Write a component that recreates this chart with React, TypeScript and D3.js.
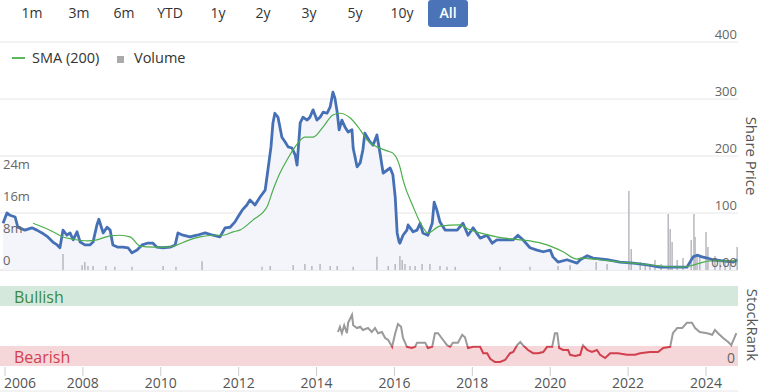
import React from "react";
import * as d3 from "d3";

// ---------- DATA ----------
const rangeButtons = ["1m", "3m", "6m", "YTD", "1y", "2y", "3y", "5y", "10y", "All"];
const yearTicks = [2006, 2008, 2010, 2012, 2014, 2016, 2018, 2020, 2022, 2024];
const priceTicks = [0, 100, 200, 300, 400];
const volumeTicks = [0, 8, 16, 24];

// share price: [decimal year, price]
const priceSeries: [number, number][] = [
  [2005.95, 82], [2006.05, 100], [2006.13, 96], [2006.26, 93], [2006.33, 75], [2006.51, 70],
  [2006.69, 74], [2006.82, 70], [2006.95, 65], [2007.1, 58], [2007.23, 49], [2007.34, 44],
  [2007.41, 39], [2007.49, 70], [2007.59, 61], [2007.67, 65], [2007.75, 53], [2007.85, 67],
  [2007.93, 49], [2008.05, 44], [2008.18, 44], [2008.26, 49], [2008.36, 79], [2008.41, 89],
  [2008.52, 65], [2008.62, 75], [2008.7, 70], [2008.77, 44], [2008.9, 40], [2009.03, 40],
  [2009.16, 39], [2009.26, 30], [2009.39, 35], [2009.52, 44], [2009.65, 47], [2009.8, 47],
  [2009.9, 40], [2010.06, 39], [2010.24, 40], [2010.37, 44], [2010.44, 65], [2010.57, 61],
  [2010.75, 58], [2010.93, 61], [2011.14, 65], [2011.34, 61], [2011.52, 58], [2011.65, 74],
  [2011.78, 75], [2011.9, 84], [2011.98, 93], [2012.09, 105], [2012.21, 114], [2012.29, 123],
  [2012.42, 114], [2012.55, 128], [2012.68, 140], [2012.75, 175], [2012.83, 216], [2012.88, 258],
  [2012.93, 275], [2013.01, 268], [2013.11, 233], [2013.19, 225], [2013.27, 216], [2013.37, 214],
  [2013.45, 202], [2013.5, 184], [2013.58, 258], [2013.65, 268], [2013.76, 263], [2013.83, 268],
  [2013.91, 281], [2014.01, 263], [2014.09, 268], [2014.17, 277], [2014.27, 275], [2014.35, 286],
  [2014.42, 312], [2014.47, 302], [2014.53, 277], [2014.58, 246], [2014.65, 263], [2014.73, 251],
  [2014.81, 242], [2014.91, 246], [2014.94, 214], [2015.04, 181], [2015.12, 188], [2015.19, 211],
  [2015.24, 240], [2015.37, 225], [2015.45, 219], [2015.55, 237], [2015.63, 205], [2015.71, 170],
  [2015.81, 175], [2015.89, 179], [2015.96, 167], [2016.02, 128], [2016.07, 65], [2016.12, 49],
  [2016.14, 47], [2016.22, 61], [2016.32, 70], [2016.35, 79], [2016.48, 67], [2016.58, 70],
  [2016.66, 82], [2016.73, 65], [2016.86, 61], [2016.97, 82], [2017.02, 119], [2017.09, 105],
  [2017.17, 84], [2017.3, 70], [2017.43, 70], [2017.61, 70], [2017.76, 82], [2017.89, 61],
  [2018.02, 74], [2018.2, 56], [2018.38, 61], [2018.51, 47], [2018.63, 53], [2018.89, 53],
  [2019.05, 53], [2019.17, 61], [2019.3, 53], [2019.48, 39], [2019.66, 35], [2019.82, 32],
  [2020.0, 35], [2020.07, 23], [2020.2, 14], [2020.43, 18], [2020.69, 12], [2020.77, 18],
  [2020.95, 25], [2021.1, 21], [2021.46, 18], [2021.79, 14], [2022.13, 12], [2022.49, 9],
  [2022.82, 5], [2023.15, 5], [2023.51, 5], [2023.67, 23], [2023.77, 26], [2023.9, 23],
  [2024.03, 21], [2024.18, 18], [2024.44, 16], [2024.7, 14], [2024.8, 18],
];

// SMA (200): [decimal year, value]
const smaSeries: [number, number][] = [
  [2006.72, 82], [2006.98, 75], [2007.23, 67], [2007.49, 58], [2007.75, 54], [2008.11, 51],
  [2008.36, 53], [2008.7, 60], [2008.95, 61], [2009.21, 58], [2009.47, 42], [2009.8, 40],
  [2010.16, 40], [2010.42, 44], [2010.67, 51], [2011.01, 58], [2011.34, 61], [2011.6, 61],
  [2011.86, 67], [2012.03, 70], [2012.37, 88], [2012.73, 111], [2012.88, 140], [2013.06, 170],
  [2013.24, 193], [2013.45, 216], [2013.7, 233], [2013.91, 233], [2014.17, 251], [2014.42, 272],
  [2014.6, 275], [2014.86, 267], [2015.12, 246], [2015.3, 228], [2015.55, 216], [2015.81, 209],
  [2015.96, 205], [2016.14, 181], [2016.22, 158], [2016.48, 111], [2016.73, 75], [2016.86, 65],
  [2017.17, 77], [2017.68, 79], [2017.89, 72], [2018.2, 65], [2018.63, 58], [2019.05, 54],
  [2019.48, 51], [2019.92, 44], [2020.33, 32], [2020.69, 19], [2020.77, 21], [2021.28, 18],
  [2021.79, 14], [2022.31, 11], [2022.82, 7], [2023.33, 5], [2023.59, 7], [2023.84, 12],
  [2024.1, 16], [2024.44, 16], [2024.8, 16],
];

// volume in millions: [decimal year, volume]
const volumeSeries: [number, number][] = [
  [2007.49, 4], [2007.98, 1.2], [2008.05, 2], [2008.13, 1], [2008.26, 1], [2008.59, 1],
  [2008.82, 0.8], [2009.26, 0.8], [2010.06, 1], [2010.39, 0.8], [2011.06, 2.2], [2012.6, 0.8],
  [2012.81, 1], [2013.4, 1.2], [2013.7, 1.5], [2013.88, 1], [2014.09, 1.5], [2014.35, 1],
  [2014.53, 1], [2014.94, 0.8], [2015.55, 3.3], [2015.84, 1], [2016.02, 1.5], [2016.14, 3.5],
  [2016.2, 2.5], [2016.27, 1.5], [2016.4, 1], [2016.53, 1], [2016.71, 1.5], [2016.91, 1.5],
  [2017.17, 1], [2017.35, 0.8], [2017.56, 0.8], [2018.71, 0.8], [2019.48, 0.8], [2020.2, 1],
  [2020.51, 1.2], [2021.18, 2], [2021.46, 1.5], [2022.02, 19.75], [2022.08, 5.25], [2022.31, 2],
  [2022.44, 1.5], [2022.56, 1], [2022.69, 2.5], [2022.85, 1.5], [2023.03, 14], [2023.08, 10.25],
  [2023.13, 7], [2023.26, 2.5], [2023.41, 3], [2023.62, 7.5], [2023.69, 14], [2023.72, 8.25],
  [2023.77, 4], [2023.84, 3.5], [2024.0, 9.5], [2024.05, 5.75], [2024.23, 3.5], [2024.36, 2],
  [2024.49, 2.5], [2024.62, 1.5], [2024.8, 5.75],
];

// StockRank: [decimal year, rank]
const rankSeries: [number, number][] = [
  [2014.55, 42.5], [2014.6, 49], [2014.65, 41], [2014.71, 51], [2014.78, 41], [2014.81, 54],
  [2014.91, 64], [2014.94, 51], [2015.04, 47.5], [2015.12, 49], [2015.19, 45], [2015.32, 47.5],
  [2015.42, 42.5], [2015.5, 47.5], [2015.58, 41], [2015.68, 42.5], [2015.76, 35], [2015.84, 32.5],
  [2015.94, 24], [2016.02, 41], [2016.09, 52.5], [2016.17, 49], [2016.22, 35], [2016.32, 24],
  [2016.45, 22.5], [2016.53, 24], [2016.58, 29], [2016.71, 29], [2016.79, 29], [2016.86, 22.5],
  [2016.97, 24], [2017.04, 41], [2017.12, 41], [2017.25, 32.5], [2017.35, 26], [2017.43, 24],
  [2017.5, 29], [2017.63, 29], [2017.74, 39], [2017.81, 36], [2017.89, 22.5], [2018.02, 24],
  [2018.2, 24], [2018.28, 16], [2018.38, 16], [2018.46, 9], [2018.58, 5], [2018.71, 5],
  [2018.84, 7.5], [2018.97, 16], [2019.05, 17.5], [2019.15, 26], [2019.23, 30], [2019.3, 26],
  [2019.43, 20], [2019.56, 16], [2019.69, 16], [2019.82, 17.5], [2019.92, 24], [2020.05, 24],
  [2020.12, 41], [2020.18, 41], [2020.23, 22.5], [2020.33, 20], [2020.46, 20], [2020.51, 14],
  [2020.64, 12.5], [2020.77, 14], [2020.84, 26], [2020.95, 20], [2021.07, 17.5], [2021.2, 20],
  [2021.28, 14], [2021.41, 10], [2021.54, 16], [2021.74, 16], [2021.97, 14], [2022.18, 14],
  [2022.31, 16], [2022.56, 17.5], [2022.77, 17.5], [2022.9, 22.5], [2023.08, 24], [2023.15, 41],
  [2023.26, 47.5], [2023.39, 47.5], [2023.51, 54], [2023.64, 54], [2023.72, 47.5], [2023.84, 42.5],
  [2024.03, 41], [2024.16, 39], [2024.23, 45], [2024.31, 41], [2024.44, 35], [2024.57, 30],
  [2024.65, 26], [2024.78, 41],
];

const bullishFrom = 75;
const bearishTo = 25;

// ---------- LAYOUT ----------
const W = 767;
const H = 392;
const plotLeft = 0;
const plotRight = 738;
const FONT = "'Open Sans', 'Noto Sans', sans-serif";
const NARROW = "'Liberation Sans Narrow', 'Open Sans', sans-serif";

export default function App() {
  const x = d3.scaleLinear().domain([2006, 2024]).range([5, 706]);
  const yPrice = d3.scaleLinear().domain([0, 400]).range([270, 42]);
  const yVol = d3.scaleLinear().domain([0, 8]).range([270, 238]);
  const yRank = d3.scaleLinear().domain([0, 100]).range([366, 286]);

  const priceLine = d3.line<[number, number]>().x((d) => x(d[0])).y((d) => yPrice(d[1]));
  const priceArea = d3
    .area<[number, number]>()
    .x((d) => x(d[0]))
    .y0(yPrice(0))
    .y1((d) => yPrice(d[1]));
  const smaLine = d3
    .line<[number, number]>()
    .x((d) => x(d[0]))
    .y((d) => yPrice(d[1]))
    .curve(d3.curveMonotoneX);
  const rankLine = d3.line<[number, number]>().x((d) => x(d[0])).y((d) => yRank(d[1]));

  const btnCenters = [32, 79, 124, 170, 218, 263, 309, 355, 402, 448];

  return (
    <svg
      width={W}
      height={H}
      style={{ position: "absolute", left: 0, top: 0, background: "#fff" }}
      fontFamily={FONT}
    >
      <defs>
        <clipPath id="plotClip">
          <rect x={plotLeft} y={0} width={plotRight - plotLeft} height={H} />
        </clipPath>
        <clipPath id="rankUpper">
          <rect x={0} y={0} width={W} height={yRank(bearishTo)} />
        </clipPath>
        <clipPath id="rankLower">
          <rect x={0} y={yRank(bearishTo)} width={W} height={H} />
        </clipPath>
      </defs>

      {/* range selector buttons */}
      <rect x={428} y={0} width={40} height={27} rx={3} fill="#4a74b7" />
      {rangeButtons.map((b, i) => (
        <text
          key={b}
          x={btnCenters[i]}
          y={18}
          textAnchor="middle"
          fontSize={14}
          fill={b === "All" ? "#fff" : "#333"}
          fontWeight={b === "All" ? 600 : 400}
        >
          {b}
        </text>
      ))}

      {/* price grid */}
      {priceTicks.map((t) => (
        <line
          key={t}
          x1={plotLeft}
          x2={plotRight}
          y1={yPrice(t)}
          y2={yPrice(t)}
          stroke={t === 0 ? "#d8d8d8" : "#e6e6e6"}
          strokeWidth={1}
        />
      ))}

      {/* legend */}
      <line x1={12} x2={25} y1={58} y2={58} stroke="#5cb85c" strokeWidth={2} />
      <text x={32} y={63} fontSize={14.5} fill="#333">
        SMA (200)
      </text>
      <rect x={117} y={56} width={7} height={7} fill="#aaa" />
      <text x={134} y={63} fontSize={14.5} fill="#333">
        Volume
      </text>

      <g clipPath="url(#plotClip)">
        {/* price area */}
        <path d={priceArea(priceSeries) || ""} fill="#f3f5fb" />
        {/* volume bars */}
        {volumeSeries.map(([t, v], i) => (
          <rect
            key={i}
            x={x(t) - 0.75}
            y={yVol(v)}
            width={1.5}
            height={yVol(0) - yVol(v)}
            fill="#b8b8bf"
          />
        ))}
        {/* price line */}
        <path
          d={priceLine(priceSeries) || ""}
          fill="none"
          stroke="#4670b6"
          strokeWidth={2.8}
          strokeLinejoin="round"
        />
        {/* SMA */}
        <path d={smaLine(smaSeries) || ""} fill="none" stroke="#4cae4c" strokeWidth={1.2} />
      </g>

      {/* right price labels */}
      {priceTicks.map((t) => (
        <text key={t} x={737} y={yPrice(t) - 3} textAnchor="end" fontSize={13} fill="#666">
          {t === 0 ? "0.00" : t}
        </text>
      ))}
      {/* left volume labels */}
      {volumeTicks.map((t) => (
        <text key={t} x={3} y={yVol(t) - 5} fontSize={13} fill="#666">
          {t === 0 ? "0" : `${t}m`}
        </text>
      ))}

      <text
        transform={`translate(746,156) rotate(90)`}
        textAnchor="middle"
        fontSize={15}
        fill="#555"
      >
        Share Price
      </text>

      {/* StockRank panel */}
      <rect
        x={plotLeft}
        y={yRank(100)}
        width={plotRight - plotLeft}
        height={yRank(bullishFrom) - yRank(100)}
        fill="#d4e9dc"
      />
      <rect
        x={plotLeft}
        y={yRank(bearishTo)}
        width={plotRight - plotLeft}
        height={yRank(0) - yRank(bearishTo)}
        fill="#f5d6d9"
      />
      <text x={14} y={303} fontSize={16} fill="#3a8a40" fontFamily={NARROW}>
        Bullish
      </text>
      <text x={14} y={363} fontSize={16} fill="#d23f4d" fontFamily={NARROW}>
        Bearish
      </text>
      <path
        d={rankLine(rankSeries) || ""}
        fill="none"
        stroke="#9a9a9a"
        strokeWidth={2}
        clipPath="url(#rankUpper)"
      />
      <path
        d={rankLine(rankSeries) || ""}
        fill="none"
        stroke="#d23f4d"
        strokeWidth={2}
        clipPath="url(#rankLower)"
      />
      <text x={735} y={363} textAnchor="end" fontSize={14} fill="#666">
        0
      </text>
      <text
        transform={`translate(747,325) rotate(90)`}
        textAnchor="middle"
        fontSize={15}
        fill="#555"
        fontWeight={500}
      >
        StockRank
      </text>

      {/* x axis */}
      {yearTicks.map((yr) => (
        <g key={yr}>
          <line x1={x(yr)} x2={x(yr)} y1={367} y2={376} stroke="#ccc" />
          <text
            x={yr === 2006 ? x(yr) - 1 : x(yr)}
            y={388}
            textAnchor={yr === 2006 ? "start" : "middle"}
            fontSize={14}
            fill="#555"
          >
            {yr}
          </text>
        </g>
      ))}
      <line x1={plotLeft} x2={plotRight} y1={391} y2={391} stroke="#e6e6e6" />
    </svg>
  );
}
